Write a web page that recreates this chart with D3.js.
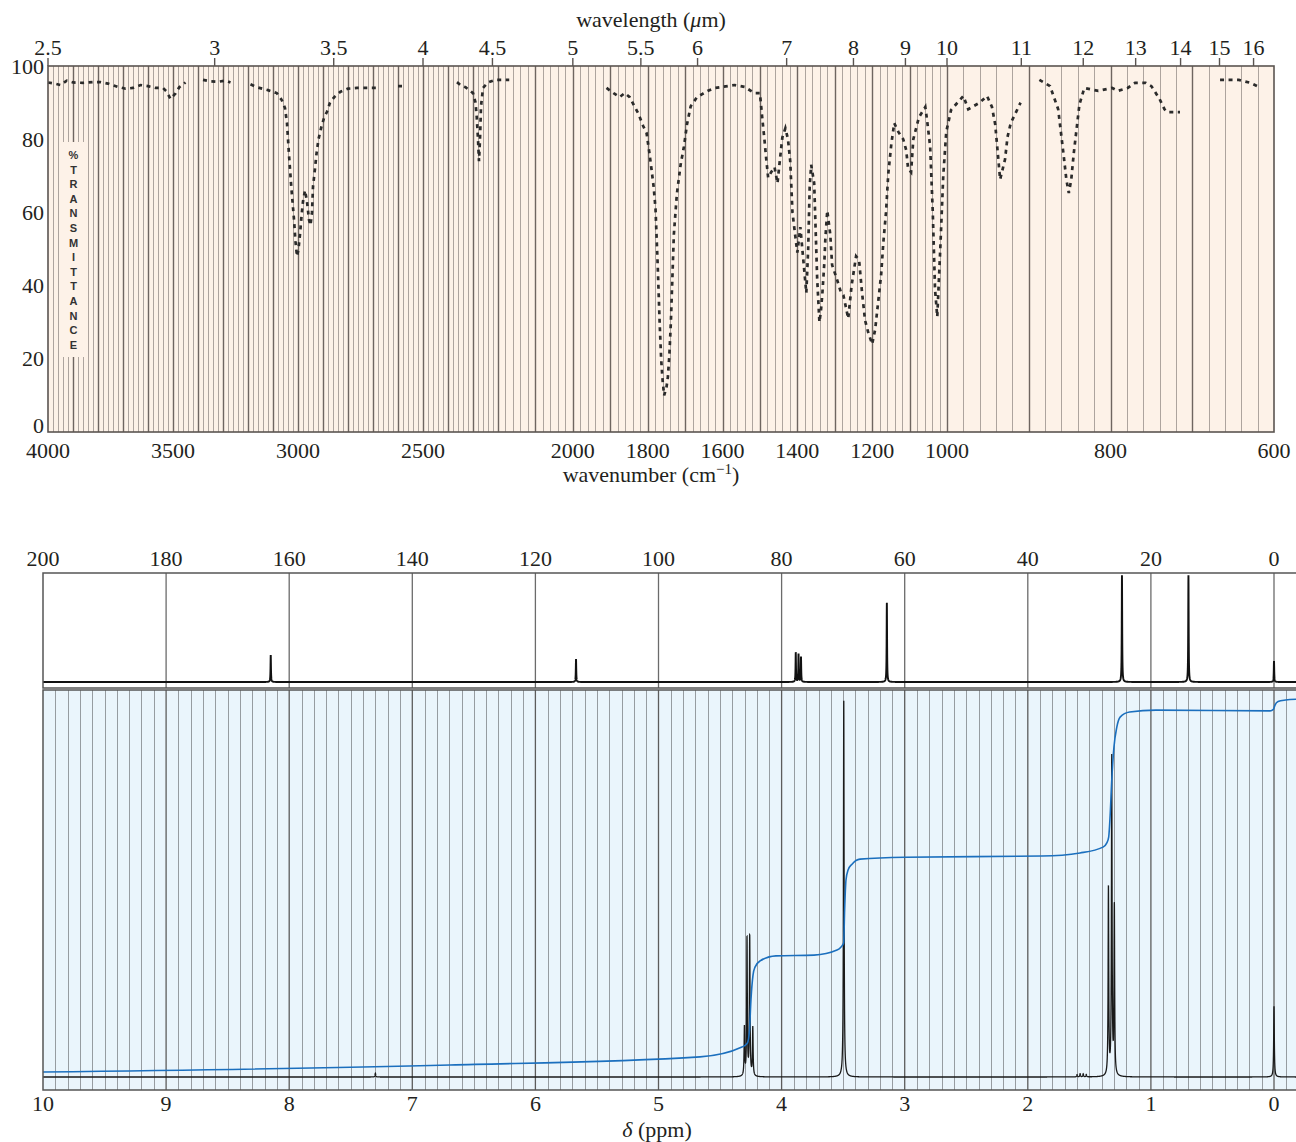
<!DOCTYPE html>
<html><head><meta charset="utf-8">
<script src="https://cdn.jsdelivr.net/npm/d3@7"></script>
<style>body{margin:0;background:#fff}svg{display:block}</style>
</head><body><svg id="c" width="1296" height="1142"></svg>
<script>
// ---------------- DATA ----------------
// IR spectrum: [wavenumber (cm-1), %transmittance]; null = no trace drawn
const irSpectrum = [
 [4000,95.5],[3975,95.2],[3950,94.8],[3925,96.0],[3900,95.5],[3860,95.4],[3820,95.6],[3790,95.6],[3760,95.2],
 [3720,94.3],[3690,93.8],[3660,94.0],[3630,94.8],[3600,94.5],[3570,94.0],[3540,94.0],[3525,93.0],[3510,91.0],
 [3490,92.5],[3475,94.2],[3450,95.5],[3415,null],[3380,96.2],[3350,95.8],[3320,95.7],[3290,96.0],[3270,95.5],
 [3230,null],[3190,95.0],[3165,94.2],[3120,93.4],[3085,92.6],[3065,90.7],[3052,88.5],[3044,84.4],[3036,75.7],
 [3028,68],[3022,63],[3016,58],[3010,52],[3004,48],[2998,50],[2992,54],[2986,59],[2980,63],[2972,66],[2964,63],
 [2956,58],[2950,56.5],[2944,60],[2940,67],[2932,72],[2926,76],[2918,80],[2906,83.5],[2895,86],[2884,87.5],
 [2872,90],[2855,91.5],[2830,93],[2800,93.8],[2764,94],[2720,94],[2680,94],[2640,null],[2600,94.5],[2570,94.5],
 [2470,null],[2364,95.6],[2350,94.8],[2330,94.2],[2300,92.6],[2290,90],[2285,86],[2280,80],[2276,74],[2272,80],
 [2268,89],[2260,94],[2240,95.5],[2212,96.2],[2190,96.2],[2170,96.2],[2040,null],[1910,94],[1890,92.5],
 [1875,91.5],[1861,92.6],[1848,91.5],[1838,89.5],[1825,87],[1812,83.6],[1803,81.7],[1795,76],[1790,72],
 [1784,67],[1779,61],[1773,45],[1768,30],[1764,20],[1760,14],[1756,10],[1750,12],[1746,15],[1742,21],[1738,30],
 [1734,42],[1730,54],[1722,65],[1712,73],[1703,78],[1695,84],[1685,89],[1668,91.5],[1653,92.4],[1640,93.2],
 [1621,94],[1600,94.3],[1568,94.8],[1541,94.3],[1515,92.6],[1500,92.6],[1493,85],[1488,80],[1483,74.5],
 [1478,69.5],[1470,71],[1461,72.4],[1453,68],[1448,73],[1440,80.5],[1432,83],[1425,80],[1419,74],[1413,60],
 [1406,54],[1400,49],[1392,56],[1384,47],[1376,38],[1371,50],[1367,67],[1363,73],[1355,68],[1351,55],[1347,42],
 [1341,30],[1337,33],[1333,38],[1328,46],[1325,53],[1320,60.5],[1312,54],[1307,45.6],[1295,42],[1283,38],
 [1277,37.4],[1270,34],[1264,31],[1255,40],[1243,48],[1235,47],[1227,38],[1219,30.5],[1210,27],[1200,24],
 [1192,28],[1184,35.5],[1176,43],[1170,52],[1163,60],[1157,70.5],[1149,78.5],[1141,84.4],[1130,82],[1117,80],
 [1109,77],[1104,72],[1096,71],[1090,80],[1075,86],[1058,88.8],[1053,85],[1045,78],[1038,60],[1032,39],
 [1026,31.5],[1018,50],[1010,70],[1002,82],[995,88],[980,91.8],[974,88.2],[960,90],[951,91.8],[945,88.8],
 [941,84],[935,69],[929,74.5],[926,80.6],[922,84.4],[910,90],[898,null],[887,96.2],[874,94.5],[864,88.2],
 [857,75],[854,69],[851,65.3],[848,69],[845,76],[838,89.5],[832,94],[815,93.2],[798,94],[791,93.2],[779,94],
 [770,95.4],[757,95.4],[750,94.5],[740,91],[734,88.2],[730,87.4],[715,87.4],[690,null],[666,96.2],[643,96.2],
 [629,95.4],[616,94]
];
const irWavenumberTicks = [4000,3500,3000,2500,2000,1800,1600,1400,1200,1000,800,600];
const irWavelengthTicks = [2.5,3,3.5,4,4.5,5,5.5,6,7,8,9,10,11,12,13,14,15,16];
const irPercentTicks = [0,20,40,60,80,100];
const irAxisLetters = ['%','T','R','A','N','S','M','I','T','T','A','N','C','E'];

// 13C NMR peaks (ppm, relative height)
const cShift  = [163.0, 113.4, 77.7, 77.25, 76.85, 62.9, 24.7, 13.9, 0.0];
const cHeight = [24.8, 21.0, 26.6, 25.7, 23.0, 72.5, 98.0, 98.0, 19.3];
const cTicks = [200,180,160,140,120,100,80,60,40,20,0];

// 1H NMR peaks (ppm, relative height)
const hShift  = [7.30, 4.302, 4.281, 4.259, 4.234, 3.495, 1.60, 1.575, 1.55, 1.525, 1.345, 1.318, 1.297, 0.0];
const hHeight = [1.0, 12.5, 35.5, 36.0, 12.5, 97.5, 0.6, 0.8, 0.8, 0.6, 48.5, 82.0, 43.5, 18.3];
const hTicks = [10,9,8,7,6,5,4,3,2,1,0];

// integral trace (ppm, level)
const integralPpm   = [10, 6.694, 4.663, 4.322, 4.277, 4.261, 4.249, 4.232, 4.216, 4.175, 4.046, 3.737, 3.55, 3.517,
  3.496, 3.488, 3.477, 3.46, 3.428, 3.363, 2.998, 1.885, 1.576, 1.389, 1.358, 1.343, 1.33, 1.318, 1.30, 1.277, 1.25,
  1.173, 0.959, 0.032, 0.005, -0.008, -0.033, -0.094, -0.179];
const integralValue = [1.3, 3.1, 5.2, 7.75, 8.8, 12.1, 19.9, 26.4, 28.4, 30.0, 31.3, 31.5, 32.8, 33.6,
  34.6, 43.2, 50.9, 53.5, 55.0, 56.3, 56.8, 57.1, 57.9, 59.4, 60.5, 62.0, 68.2, 76.7, 85.3, 90.4, 93.0,
  94.3, 94.8, 94.6, 95.0, 96.1, 97.0, 97.4, 97.6];

// ---------------- DRAW ----------------
const svg = d3.select('#c');
const serif = '"Liberation Serif","Times New Roman",serif';
const ink = '#231f20';

// ===== IR =====
const irX = d3.scaleLinear().domain([4000,2200,1000,600]).range([48,498,947,1274]);
const irY = d3.scaleLinear().domain([0,100]).range([432,66]);
const gIR = svg.append('g');
const bg = '#fdf2e8';
gIR.append('rect').attr('x',irX(4000)).attr('y',irY(100))
  .attr('width',irX(600)-irX(4000)).attr('height',irY(0)-irY(100)).attr('fill',bg);
gIR.append('g').selectAll('line').data(d3.range(3980,600,-20)).join('line')
  .attr('x1',d=>Math.round(irX(d))+0.5).attr('x2',d=>Math.round(irX(d))+0.5)
  .attr('y1',irY(100)).attr('y2',irY(0))
  .attr('stroke',d=>d%100===0?'#6e6560':'#ada49e').attr('stroke-width',d=>d%100===0?1.4:1);
// %TRANSMITTANCE label box
gIR.append('rect').attr('x',62).attr('y',142).attr('width',23).attr('height',215).attr('fill',bg);
gIR.append('g').selectAll('text').data(irAxisLetters).join('text')
  .attr('x',73.5).attr('y',(d,i)=>159+i*14.6).attr('text-anchor','middle')
  .attr('font-family','"Liberation Sans",Arial,sans-serif').attr('font-weight','bold')
  .attr('font-size',11).attr('fill','#333').text(d=>d);
// spectrum
const irLine = d3.line().defined(d=>d[1]!==null).x(d=>irX(d[0])).y(d=>irY(d[1]));
gIR.append('path').attr('d',irLine(irSpectrum)).attr('fill','none')
  .attr('stroke','#2b2b2b').attr('stroke-width',2.7).attr('stroke-dasharray','4,4.5');
// border
gIR.append('rect').attr('x',irX(4000)).attr('y',irY(100))
  .attr('width',irX(600)-irX(4000)).attr('height',irY(0)-irY(100))
  .attr('fill','none').attr('stroke','#5a5450').attr('stroke-width',1.6);
// top wavelength ticks
gIR.append('g').selectAll('line').data(irWavelengthTicks).join('line')
  .attr('x1',d=>irX(10000/d)).attr('x2',d=>irX(10000/d))
  .attr('y1',irY(100)-8).attr('y2',irY(100)).attr('stroke','#5a5450').attr('stroke-width',1.4);
gIR.append('g').selectAll('text').data(irWavelengthTicks).join('text')
  .attr('x',d=>irX(10000/d)).attr('y',55).attr('text-anchor','middle')
  .attr('font-family',serif).attr('font-size',22).attr('fill',ink).text(d=>d);
gIR.append('g').selectAll('text').data(irWavenumberTicks).join('text')
  .attr('x',d=>irX(d)).attr('y',457.5).attr('text-anchor','middle')
  .attr('font-family',serif).attr('font-size',22).attr('fill',ink).text(d=>d);
gIR.append('g').selectAll('text').data(irPercentTicks).join('text')
  .attr('x',44).attr('y',d=>irY(d)+(d===0?1:7.5)).attr('text-anchor','end')
  .attr('font-family',serif).attr('font-size',22).attr('fill',ink).text(d=>d);
const t1 = gIR.append('text').attr('x',651).attr('y',27).attr('text-anchor','middle')
  .attr('font-family',serif).attr('font-size',22).attr('fill',ink);
t1.append('tspan').text('wavelength (');
t1.append('tspan').attr('font-style','italic').text('μ');
t1.append('tspan').text('m)');
const t2 = gIR.append('text').attr('x',651).attr('y',482).attr('text-anchor','middle')
  .attr('font-family',serif).attr('font-size',22).attr('fill',ink);
t2.append('tspan').text('wavenumber (cm');
t2.append('tspan').attr('font-size',15).attr('dy',-8).text('−1');
t2.append('tspan').attr('dy',8).text(')');

// ===== NMR =====
const xC = d3.scaleLinear().domain([200,0]).range([43,1274]);
const xH = d3.scaleLinear().domain([10,0]).range([43,1274]);
const yC = d3.scaleLinear().domain([0,100]).range([682,573]);
const yH = d3.scaleLinear().domain([0,100]).range([1077,690]);
const gN = svg.append('g');
const rightEdge = 1300;

// 13C panel
gN.append('rect').attr('x',43).attr('y',573).attr('width',rightEdge-43).attr('height',115)
  .attr('fill','#fff');
gN.append('g').selectAll('line').data(cTicks.filter(d=>d<200)).join('line')
  .attr('x1',d=>xC(d)).attr('x2',d=>xC(d)).attr('y1',573).attr('y2',688)
  .attr('stroke','#6b6b6b').attr('stroke-width',1.3);
// 13C spectrum
const cw = 0.04;
const cPpm = d3.range(200, -4.3, -0.008);
const cLine = d3.line().x(p=>xC(p)).y(p=>{
  let s=0; for(let i=0;i<cShift.length;i++){const u=(p-cShift[i])/cw; s+=cHeight[i]/(1+u*u);} return yC(s);});
gN.append('path').attr('d',cLine(cPpm)).attr('fill','none').attr('stroke','#111').attr('stroke-width',1.9);
gN.append('rect').attr('x',43).attr('y',573).attr('width',rightEdge-43).attr('height',115)
  .attr('fill','none').attr('stroke','#555').attr('stroke-width',1.5);

// 1H panel
gN.append('rect').attr('x',43).attr('y',690).attr('width',rightEdge-43).attr('height',400)
  .attr('fill','#eaf5fc');
const minor = d3.range(99,-2,-1).filter(i=>i%10!==0).map(i=>i/10);
gN.append('g').selectAll('line').data(minor).join('line')
  .attr('x1',d=>Math.round(xH(d))+0.5).attr('x2',d=>Math.round(xH(d))+0.5).attr('y1',690).attr('y2',1090)
  .attr('stroke','#969ca1').attr('stroke-width',1);
gN.append('g').selectAll('line').data(hTicks.filter(d=>d<10)).join('line')
  .attr('x1',d=>xH(d)).attr('x2',d=>xH(d)).attr('y1',690).attr('y2',1090)
  .attr('stroke','#5c5c5c').attr('stroke-width',1.3);
gN.append('clipPath').attr('id','hclip').append('rect').attr('x',43).attr('y',690).attr('width',rightEdge-43).attr('height',400);
const hw = 0.003;
const hPpm = d3.range(10, -0.2, -0.0004);
const hLine = d3.line().x(p=>xH(p)).y(p=>{
  let s=0; for(let i=0;i<hShift.length;i++){const u=(p-hShift[i])/hw; s+=hHeight[i]/(1+u*u);} return yH(s);});
gN.append('path').attr('clip-path','url(#hclip)').attr('d',hLine(hPpm)).attr('fill','none')
  .attr('stroke','#1a1a1a').attr('stroke-width',1.3);
const intLine = d3.line().x(d=>xH(d[0])).y(d=>yH(d[1])).curve(d3.curveMonotoneX);
gN.append('path').attr('clip-path','url(#hclip)')
  .attr('d',intLine(integralPpm.map((p,i)=>[p,integralValue[i]])))
  .attr('fill','none').attr('stroke','#1b6fbe').attr('stroke-width',1.6);
gN.append('rect').attr('x',43).attr('y',690).attr('width',rightEdge-43).attr('height',400)
  .attr('fill','none').attr('stroke','#555').attr('stroke-width',1.5);

// labels
gN.append('g').selectAll('text').data(cTicks).join('text')
  .attr('x',d=>xC(d)).attr('y',565.5).attr('text-anchor','middle')
  .attr('font-family',serif).attr('font-size',22).attr('fill',ink).text(d=>d);
gN.append('g').selectAll('text').data(hTicks).join('text')
  .attr('x',d=>xH(d)).attr('y',1110.5).attr('text-anchor','middle')
  .attr('font-family',serif).attr('font-size',22).attr('fill',ink).text(d=>d);
const t3 = gN.append('text').attr('x',657).attr('y',1137).attr('text-anchor','middle')
  .attr('font-family',serif).attr('font-size',22).attr('fill',ink);
t3.append('tspan').attr('font-style','italic').text('δ');
t3.append('tspan').text(' (ppm)');
</script></body></html>
